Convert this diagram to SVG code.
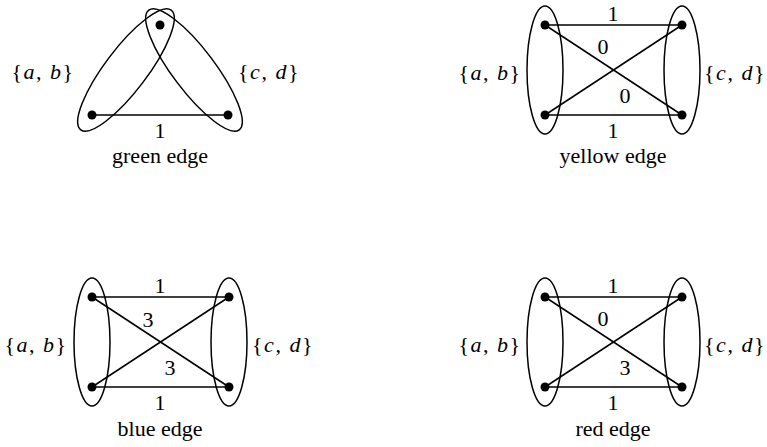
<svg xmlns="http://www.w3.org/2000/svg" width="767" height="447" viewBox="0 0 767 447">
<style>
text{font-family:"Liberation Serif","DejaVu Serif","Times New Roman",serif;font-size:22px;fill:#000;text-anchor:middle}
.i{font-style:italic}
.s{letter-spacing:1.5px}
.e{fill:none;stroke:#000;stroke-width:1.5}
.l{stroke:#000;stroke-width:1.5}
.d{fill:#000}
</style>
<rect width="767" height="447" fill="#fff"/>
<defs>
<g id="box">
<ellipse class="e" cx="0" cy="45" rx="18" ry="64"/>
<ellipse class="e" cx="137" cy="45" rx="18" ry="64"/>
</g>
</defs>

<!-- green edge -->
<g id="green">
<ellipse class="e" cx="126" cy="70" rx="75" ry="21" transform="rotate(-52.9 126 70)"/>
<ellipse class="e" cx="194" cy="70" rx="75" ry="21" transform="rotate(52.9 194 70)"/>
<g id="green-connectors"><line class="l" x1="92" y1="115" x2="228" y2="115"/></g>
<circle class="d" cx="160" cy="25" r="4.5"/>
<circle class="d" cx="92" cy="115" r="4.5"/>
<circle class="d" cx="228" cy="115" r="4.5"/>
<text class="s" x="43" y="79">{<tspan class="i">a</tspan>, <tspan class="i">b</tspan>}</text>
<text class="s" x="269" y="79">{<tspan class="i">c</tspan>, <tspan class="i">d</tspan>}</text>
<text x="160" y="138">1</text>
<text x="160" y="163">green edge</text>
</g>

<!-- yellow edge -->
<g id="yellow" transform="translate(545 25)">
<use href="#box"/>
<g id="yellow-connectors">
<line class="l" x1="0" y1="0" x2="137" y2="0"/>
<line class="l" x1="0" y1="90" x2="137" y2="90"/>
<line class="l" x1="0" y1="0" x2="137" y2="90"/>
<line class="l" x1="0" y1="90" x2="137" y2="0"/>
</g>
<circle class="d" cx="0" cy="0" r="4.5"/><circle class="d" cx="137" cy="0" r="4.5"/>
<circle class="d" cx="0" cy="90" r="4.5"/><circle class="d" cx="137" cy="90" r="4.5"/>
<text class="s" x="-55" y="55">{<tspan class="i">a</tspan>, <tspan class="i">b</tspan>}</text>
<text class="s" x="190" y="55">{<tspan class="i">c</tspan>, <tspan class="i">d</tspan>}</text>
<text x="68" y="-4">1</text>
<text x="58" y="29">0</text>
<text x="80" y="78">0</text>
<text x="68" y="113">1</text>
<text x="68" y="138">yellow edge</text>
</g>

<!-- blue edge -->
<g id="blue" transform="translate(92 297)">
<use href="#box"/>
<g id="blue-connectors">
<line class="l" x1="0" y1="0" x2="137" y2="0"/>
<line class="l" x1="0" y1="90" x2="137" y2="90"/>
<line class="l" x1="0" y1="0" x2="137" y2="90"/>
<line class="l" x1="0" y1="90" x2="137" y2="0"/>
</g>
<circle class="d" cx="0" cy="0" r="4.5"/><circle class="d" cx="137" cy="0" r="4.5"/>
<circle class="d" cx="0" cy="90" r="4.5"/><circle class="d" cx="137" cy="90" r="4.5"/>
<text class="s" x="-56" y="55">{<tspan class="i">a</tspan>, <tspan class="i">b</tspan>}</text>
<text class="s" x="191" y="55">{<tspan class="i">c</tspan>, <tspan class="i">d</tspan>}</text>
<text x="68" y="-4">1</text>
<text x="56" y="30">3</text>
<text x="78" y="78">3</text>
<text x="68" y="113">1</text>
<text x="68" y="139">blue edge</text>
</g>

<!-- red edge -->
<g id="red" transform="translate(545 297)">
<use href="#box"/>
<g id="red-connectors">
<line class="l" x1="0" y1="0" x2="137" y2="0"/>
<line class="l" x1="0" y1="90" x2="137" y2="90"/>
<line class="l" x1="0" y1="0" x2="137" y2="90"/>
<line class="l" x1="0" y1="90" x2="137" y2="0"/>
</g>
<circle class="d" cx="0" cy="0" r="4.5"/><circle class="d" cx="137" cy="0" r="4.5"/>
<circle class="d" cx="0" cy="90" r="4.5"/><circle class="d" cx="137" cy="90" r="4.5"/>
<text class="s" x="-55" y="55">{<tspan class="i">a</tspan>, <tspan class="i">b</tspan>}</text>
<text class="s" x="190" y="55">{<tspan class="i">c</tspan>, <tspan class="i">d</tspan>}</text>
<text x="68" y="-4">1</text>
<text x="58" y="29">0</text>
<text x="80" y="78">3</text>
<text x="68" y="113">1</text>
<text x="68" y="139">red edge</text>
</g>
</svg>
